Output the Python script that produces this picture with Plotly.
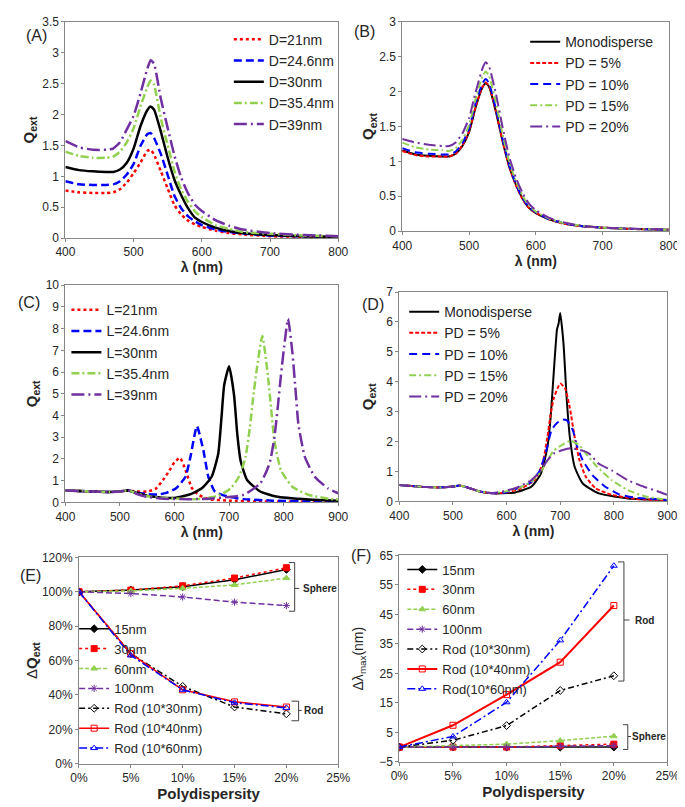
import plotly.graph_objects as go

# ---------- (A) spheres, different diameters ----------
lam_a = [400, 420, 440, 460, 470, 480, 490, 500, 510, 520, 525, 530, 540, 550, 560,
         570, 580, 590, 600, 620, 640, 660, 700, 750, 800]
qa_d21 = [0.77, 0.74, 0.73, 0.73, 0.74, 0.79, 0.90, 1.05, 1.22, 1.41, 1.43, 1.35, 1.08, 0.80, 0.53,
          0.38, 0.28, 0.22, 0.18, 0.12, 0.08, 0.06, 0.03, 0.02, 0.01]
qa_d246 = [0.92, 0.87, 0.86, 0.86, 0.87, 0.92, 1.03, 1.20, 1.49, 1.68, 1.70, 1.62, 1.36, 1.02, 0.68,
           0.48, 0.35, 0.27, 0.21, 0.14, 0.10, 0.075, 0.04, 0.03, 0.02]
qa_d30 = [1.15, 1.10, 1.08, 1.07, 1.07, 1.11, 1.22, 1.45, 1.81, 2.07, 2.13, 2.08, 1.72, 1.30, 0.94,
          0.69, 0.48, 0.33, 0.26, 0.17, 0.115, 0.08, 0.05, 0.03, 0.02]
qa_d354 = [1.40, 1.33, 1.30, 1.30, 1.32, 1.40, 1.55, 1.78, 2.13, 2.44, 2.55, 2.48, 1.93, 1.50, 1.08,
           0.78, 0.58, 0.43, 0.34, 0.21, 0.15, 0.10, 0.07, 0.04, 0.03]
qa_d39 = [1.57, 1.47, 1.43, 1.43, 1.45, 1.55, 1.76, 1.98, 2.34, 2.74, 2.88, 2.82, 2.25, 1.78, 1.33,
          0.97, 0.72, 0.54, 0.44, 0.29, 0.20, 0.14, 0.08, 0.05, 0.03]

# ---------- (B) spheres D=30nm, polydispersity ----------
lam_b = lam_a
qb_mono = [1.16, 1.10, 1.08, 1.07, 1.07, 1.11, 1.22, 1.42, 1.78, 2.06, 2.12, 2.07, 1.72, 1.30, 0.93,
           0.67, 0.47, 0.33, 0.26, 0.17, 0.115, 0.08, 0.05, 0.03, 0.02]
qb_pd5 = [1.15, 1.09, 1.07, 1.07, 1.07, 1.11, 1.23, 1.43, 1.79, 2.07, 2.13, 2.08, 1.73, 1.30, 0.93,
          0.66, 0.46, 0.33, 0.26, 0.17, 0.11, 0.08, 0.05, 0.03, 0.02]
qb_pd10 = [1.19, 1.13, 1.11, 1.10, 1.10, 1.14, 1.26, 1.47, 1.84, 2.12, 2.18, 2.12, 1.76, 1.33, 0.95,
           0.68, 0.48, 0.34, 0.27, 0.17, 0.12, 0.08, 0.05, 0.03, 0.02]
qb_pd15 = [1.27, 1.20, 1.17, 1.16, 1.15, 1.19, 1.31, 1.52, 1.90, 2.22, 2.29, 2.23, 1.85, 1.40, 1.00,
           0.72, 0.51, 0.36, 0.28, 0.18, 0.12, 0.09, 0.05, 0.03, 0.02]
qb_pd20 = [1.32, 1.27, 1.24, 1.22, 1.22, 1.27, 1.40, 1.62, 2.00, 2.33, 2.42, 2.36, 1.98, 1.50, 1.07,
           0.77, 0.55, 0.39, 0.30, 0.19, 0.13, 0.09, 0.05, 0.035, 0.02]

# ---------- (C) rods, different lengths ----------
lam_c21 = [400, 450, 480, 500, 515, 530, 550, 565, 579, 591, 600, 610, 620, 632, 644, 662, 700, 750, 800, 900]
qc_l21 = [0.55, 0.50, 0.48, 0.50, 0.55, 0.50, 0.50, 0.62, 1.03, 1.48, 1.85, 2.05, 1.50, 0.65, 0.35, 0.15,
          0.08, 0.04, 0.03, 0.02]
lam_c246 = [400, 450, 480, 500, 515, 530, 550, 570, 585, 603, 620, 629, 641, 653, 662, 674, 697, 727, 780,
            850, 900]
qc_l246 = [0.55, 0.50, 0.48, 0.50, 0.55, 0.45, 0.38, 0.36, 0.44, 0.65, 1.18, 2.08, 3.51, 2.38, 1.18, 0.50,
           0.27, 0.15, 0.08, 0.04, 0.03]
lam_c30 = [400, 450, 480, 500, 515, 530, 550, 570, 597, 626, 650, 668, 680, 686, 691, 700, 709, 715, 721,
           733, 757, 786, 846, 900]
qc_l30 = [0.55, 0.50, 0.48, 0.50, 0.55, 0.45, 0.30, 0.24, 0.20, 0.35, 0.65, 1.18, 2.23, 3.90, 5.40, 6.27,
          4.95, 3.14, 1.93, 1.03, 0.50, 0.27, 0.13, 0.07]
lam_c354 = [400, 450, 480, 500, 515, 530, 550, 580, 610, 638, 680, 703, 718, 730, 738, 744, 750, 761, 771,
            777, 783, 795, 816, 845, 887, 900]
qc_l354 = [0.55, 0.50, 0.48, 0.50, 0.55, 0.42, 0.28, 0.20, 0.17, 0.15, 0.30, 0.65, 1.18, 2.08, 3.44, 4.80,
           6.00, 7.66, 5.85, 4.34, 2.84, 1.48, 0.72, 0.35, 0.15, 0.13]
lam_c39 = [400, 450, 480, 500, 515, 530, 550, 580, 610, 640, 670, 700, 727, 757, 774, 783, 789, 795, 801,
           808, 816, 822, 827, 839, 857, 881, 900]
qc_l39 = [0.55, 0.50, 0.48, 0.50, 0.55, 0.40, 0.25, 0.17, 0.15, 0.15, 0.18, 0.25, 0.35, 0.87, 1.78, 2.99,
          4.34, 5.85, 7.20, 8.45, 6.90, 5.10, 3.60, 2.08, 1.18, 0.65, 0.42]

# ---------- (D) rods L=30nm, polydispersity ----------
lam_dm = [400, 450, 480, 500, 512, 530, 550, 575, 600, 616, 646, 664, 676, 682, 688, 694, 697, 700, 706,
          712, 718, 727, 742, 772, 826, 900]
qd_mono = [0.55, 0.48, 0.47, 0.50, 0.53, 0.45, 0.33, 0.27, 0.28, 0.30, 0.49, 0.93, 1.81, 2.79, 4.33, 5.75,
           5.95, 6.30, 5.30, 3.45, 2.14, 1.15, 0.60, 0.27, 0.10, 0.05]
lam_d5 = [400, 450, 480, 500, 512, 530, 550, 575, 600, 628, 652, 667, 676, 682, 688, 700, 709, 718, 727,
          736, 748, 766, 796, 838, 900]
qd_pd5 = [0.55, 0.48, 0.47, 0.50, 0.53, 0.45, 0.33, 0.27, 0.30, 0.44, 0.71, 1.26, 2.14, 2.90, 3.45, 3.94,
          3.78, 3.12, 2.14, 1.37, 0.82, 0.44, 0.22, 0.09, 0.04]
lam_d10 = [400, 450, 480, 500, 512, 530, 550, 575, 600, 620, 647, 662, 674, 684, 694, 703, 712, 724, 730,
           742, 760, 784, 808, 838, 900]
qd_pd10 = [0.55, 0.48, 0.47, 0.50, 0.53, 0.45, 0.33, 0.27, 0.31, 0.44, 0.66, 1.04, 1.70, 2.40, 2.62, 2.74,
           2.72, 2.36, 1.92, 1.37, 0.88, 0.49, 0.25, 0.13, 0.05]
lam_d15 = [400, 450, 480, 500, 512, 530, 550, 575, 600, 622, 646, 664, 676, 688, 706, 720, 736, 748, 766,
           796, 826, 856, 880, 900]
qd_pd15 = [0.55, 0.48, 0.47, 0.50, 0.53, 0.45, 0.33, 0.28, 0.34, 0.44, 0.66, 0.99, 1.37, 1.70, 1.92, 2.03,
           1.87, 1.60, 1.21, 0.71, 0.38, 0.18, 0.10, 0.07]
lam_d20 = [400, 450, 480, 500, 512, 530, 550, 575, 600, 616, 646, 664, 676, 688, 705, 720, 742, 754, 772,
           796, 826, 856, 880, 900]
qd_pd20 = [0.55, 0.48, 0.47, 0.50, 0.53, 0.45, 0.33, 0.28, 0.37, 0.44, 0.71, 1.04, 1.37, 1.60, 1.72, 1.78,
           1.70, 1.60, 1.26, 1.04, 0.71, 0.49, 0.35, 0.22]

# ---------- (E) / (F) versus polydispersity ----------
pd = [0, 5, 10, 15, 20]
e_15 = [100, 101, 103, 107, 113]
e_30 = [100, 101, 103.5, 108, 114]
e_60 = [100, 100.5, 102, 104, 108]
e_100 = [100, 99, 97, 94, 92]
e_rod30 = [100, 64, 45, 33, 29]
e_rod40 = [100, 64, 43, 36, 33]
e_rod60 = [100, 63, 43, 35.5, 32.5]

f_15 = [0, 0, 0, 0, 0]
f_30 = [0, 0, 0, 0.5, 1]
f_60 = [0, 0.5, 1, 2.2, 3.7]
f_100 = [0, 0, 0, 0.3, 0.5]
f_rod30 = [0, 2.3, 7.3, 19.2, 24.2]
f_rod40 = [0, 7.4, 17.8, 28.8, 48]
f_rod60 = [0, 3.6, 15.2, 36.2, 61.5]

FONT = "Liberation Sans, Arial, sans-serif"
TXT = "#262626"
GRID = "#868686"
RED, BLUE, GREEN, PURPLE, BLACK = "#ff0000", "#0000ff", "#92d050", "#7030a0", "#000000"

fig = go.Figure()


def spec(x, y, name, color, dash, ax, leg, width=2.5):
    fig.add_trace(go.Scatter(
        x=x, y=y, name=name, mode="lines",
        line=dict(color=color, dash=dash, width=width, shape="spline", smoothing=0.5),
        xaxis="x" + ax, yaxis="y" + ax, legend=leg))


def pts(x, y, name, color, dash, symbol, ax, leg, width=1.5):
    fig.add_trace(go.Scatter(
        x=x, y=y, name=name, mode="lines+markers",
        line=dict(color=color, dash=dash, width=width),
        marker=dict(symbol=symbol, size=6, color=color, line=dict(color=color, width=1)),
        xaxis="x" + ax, yaxis="y" + ax, legend=leg))


spec(lam_a, qa_d21, "D=21nm", RED, "dot", "", "legend")
spec(lam_a, qa_d246, "D=24.6nm", BLUE, "8px,4px", "", "legend")
spec(lam_a, qa_d30, "D=30nm", BLACK, "solid", "", "legend")
spec(lam_a, qa_d354, "D=35.4nm", GREEN, "8px,3px,2px,3px", "", "legend")
spec(lam_a, qa_d39, "D=39nm", PURPLE, "13px,4px,2px,4px", "", "legend")

spec(lam_b, qb_mono, "Monodisperse", BLACK, "solid", "2", "legend2", 2)
spec(lam_b, qb_pd5, "PD = 5%", RED, "4px,2px", "2", "legend2", 2)
spec(lam_b, qb_pd10, "PD = 10%", BLUE, "8px,5px", "2", "legend2", 2)
spec(lam_b, qb_pd15, "PD = 15%", GREEN, "7px,3px,2px,3px", "2", "legend2", 2)
spec(lam_b, qb_pd20, "PD = 20%", PURPLE, "12px,4px,2px,4px", "2", "legend2", 2)

spec(lam_c21, qc_l21, "L=21nm", RED, "dot", "3", "legend3")
spec(lam_c246, qc_l246, "L=24.6nm", BLUE, "8px,4px", "3", "legend3")
spec(lam_c30, qc_l30, "L=30nm", BLACK, "solid", "3", "legend3")
spec(lam_c354, qc_l354, "L=35.4nm", GREEN, "8px,3px,2px,3px", "3", "legend3")
spec(lam_c39, qc_l39, "L=39nm", PURPLE, "13px,4px,2px,4px", "3", "legend3")

spec(lam_dm, qd_mono, "Monodisperse", BLACK, "solid", "4", "legend4", 2)
spec(lam_d5, qd_pd5, "PD = 5%", RED, "4px,2px", "4", "legend4", 2)
spec(lam_d10, qd_pd10, "PD = 10%", BLUE, "8px,5px", "4", "legend4", 2)
spec(lam_d15, qd_pd15, "PD = 15%", GREEN, "7px,3px,2px,3px", "4", "legend4", 2)
spec(lam_d20, qd_pd20, "PD = 20%", PURPLE, "12px,4px,2px,4px", "4", "legend4", 2)

pts(pd, e_15, "15nm", BLACK, "solid", "diamond", "5", "legend5")
pts(pd, e_30, "30nm", RED, "dot", "square", "5", "legend5")
pts(pd, e_60, "60nm", GREEN, "4px,2px", "triangle-up", "5", "legend5")
pts(pd, e_100, "100nm", PURPLE, "6px,3px", "asterisk-open", "5", "legend5")
pts(pd, e_rod30, "Rod (10*30nm)", BLACK, "6px,3px,2px,3px", "diamond-open", "5", "legend5")
pts(pd, e_rod40, "Rod (10*40nm)", RED, "solid", "square-open", "5", "legend5")
pts(pd, e_rod60, "Rod (10*60nm)", BLUE, "8px,3px,2px,3px", "triangle-up-open", "5", "legend5")

pts(pd, f_15, "15nm", BLACK, "solid", "diamond", "6", "legend6")
pts(pd, f_30, "30nm", RED, "dot", "square", "6", "legend6")
pts(pd, f_60, "60nm", GREEN, "4px,2px", "triangle-up", "6", "legend6")
pts(pd, f_100, "100nm", PURPLE, "6px,3px", "asterisk-open", "6", "legend6")
pts(pd, f_rod30, "Rod (10*30nm)", BLACK, "6px,3px,2px,3px", "diamond-open", "6", "legend6")
pts(pd, f_rod40, "Rod (10*40nm)", RED, "solid", "square-open", "6", "legend6", 2)
pts(pd, f_rod60, "Rod(10*60nm)", BLUE, "8px,3px,2px,3px", "triangle-up-open", "6", "legend6")


def xax(domain, anchor, rng, dtick, title, standoff, suffix="", size=14):
    return dict(domain=domain, anchor=anchor, range=rng, dtick=dtick, tick0=0, ticksuffix=suffix,
                showline=True, mirror=True, linecolor=GRID, linewidth=1, ticks="outside", ticklen=3,
                tickcolor=GRID, showgrid=False, zeroline=False,
                tickfont=dict(size=12, color=TXT),
                title=dict(text=title, standoff=standoff, font=dict(size=size, color=TXT)))


def yax(domain, anchor, rng, dtick, title, standoff, tick0=0, suffix="", size=15):
    d = xax(domain, anchor, rng, dtick, title, standoff, suffix, size)
    d["tick0"] = tick0
    return d


LAM = "<b>λ (nm)</b>"
QEXT = "<b>Q<sub>ext</sub></b>"
POLY = "<b>Polydispersity</b>"

fig.update_layout(
    width=685, height=807, margin=dict(l=0, r=0, t=0, b=0),
    paper_bgcolor="white", plot_bgcolor="white",
    font=dict(family=FONT, color=TXT),
    xaxis=xax([0.0715, 0.483], "y", [400, 800], 100, LAM, 0),
    yaxis=yax([0.7187, 0.9913], "x", [0, 3.5], 0.5, QEXT, 4),
    xaxis2=xax([0.5796, 0.9825], "y2", [400, 800], 100, LAM, 0),
    yaxis2=yax([0.7274, 0.9913], "x2", [0, 3], 0.5, QEXT, 1),
    xaxis3=xax([0.0715, 0.483], "y3", [400, 900], 100, LAM, 0),
    yaxis3=yax([0.3854, 0.6592], "x3", [0, 10], 1, QEXT, 4),
    xaxis4=xax([0.5752, 0.9796], "y4", [400, 900], 100, LAM, 0),
    yaxis4=yax([0.3866, 0.6506], "x4", [0, 7], 1, QEXT, 9),
    xaxis5=xax([0.092, 0.483], "y5", [0, 25], 5, POLY, 2, "%", 15),
    yaxis5=yax([0.0558, 0.316], "x5", [0, 120], 20, "Δ<b>Q<sub>ext</sub></b>", 0, 0, "%"),
    xaxis6=xax([0.5752, 0.9796], "y6", [0, 25], 5, POLY, 0, "%", 15),
    yaxis6=yax([0.0582, 0.3185], "x6", [-5, 65], 10, "Δλ<sub>max</sub>(nm)", 12, -5, "", 14),
    showlegend=True,
)

leg_common = dict(bgcolor="rgba(0,0,0,0)", borderwidth=0, xanchor="left", yanchor="top",
                  font=dict(size=13, color=TXT), tracegroupgap=0)
fig.update_layout(
    legend=dict(leg_common, x=0.318, y=0.989, font=dict(size=14, color=TXT)),
    legend2=dict(leg_common, x=0.765, y=0.986, font=dict(size=14, color=TXT)),
    legend3=dict(leg_common, x=0.073, y=0.648, font=dict(size=14, color=TXT)),
    legend4=dict(leg_common, x=0.5825, y=0.6456, font=dict(size=14, color=TXT)),
    legend5=dict(leg_common, x=0.0847, y=0.0558, yanchor="bottom"),
    legend6=dict(leg_common, x=0.5796, y=0.3197),
)

# panel letters
for label, cx, cy in [("(A)", 19.5, 20.8), ("(B)", 357.5, 16.7), ("(C)", 11.5, 293),
                      ("(D)", 366.5, 295), ("(E)", 13, 570), ("(F)", 354.5, 550)]:
    fig.add_annotation(text=label, x=cx / 685, y=1 - cy / 807, xref="paper", yref="paper",
                       showarrow=False, xanchor="center", yanchor="middle",
                       font=dict(size=16, color=TXT))


# brackets for Sphere / Rod groups
def bracket(ax, x0, x1, x2, ytop, ybot, ymid, label, xt):
    path = f"M {x0},{ytop} L {x1},{ytop} L {x1},{ybot} L {x0},{ybot} M {x1},{ymid} L {x2},{ymid}"
    fig.add_shape(type="path", path=path, xref="x" + ax, yref="y" + ax,
                  line=dict(color="#404040", width=1))
    fig.add_annotation(text=f"<b>{label}</b>", x=xt, y=ymid, xref="x" + ax, yref="y" + ax,
                       showarrow=False, xanchor="left", yanchor="middle",
                       font=dict(size=10, color=TXT))


bracket("5", 20.24, 20.8, 21.24, 117, 88.7, 102, "Sphere", 21.4)
bracket("5", 20.49, 21.18, 21.48, 36.4, 25, 31, "Rod", 21.5)
bracket("6", 20.4, 20.94, 21.45, 62.8, 22.4, 43.1, "Rod", 21.8)
bracket("6", 20.85, 21.3, 21.6, 7.6, -0.8, 3.6, "Sphere", 21.5)

fig.write_html("out.html")
